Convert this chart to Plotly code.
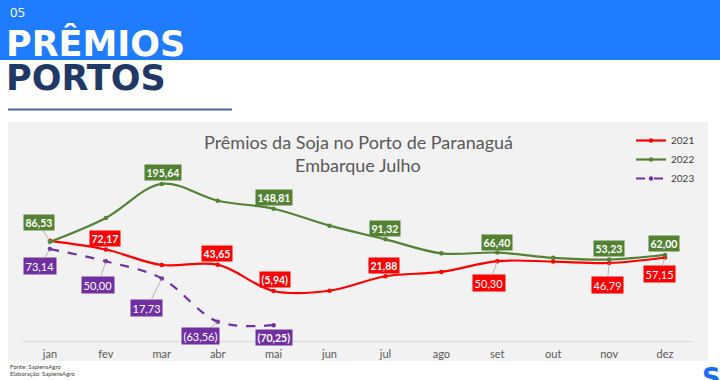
import plotly.graph_objects as go

months = ['jan', 'fev', 'mar', 'abr', 'mai', 'jun', 'jul', 'ago', 'set', 'out', 'nov', 'dez']
v2021 = [88.5, 72.17, 43.0, 43.65, -5.94, -5.5, 21.88, 30.0, 50.30, 49.5, 46.79, 57.15]
v2022 = [86.53, 131.5, 195.64, 164.0, 148.81, 117.0, 91.32, 65.0, 66.40, 56.5, 53.23, 62.00]
v2023 = [73.14, 50.00, 17.73, -63.56, -70.25, None, None, None, None, None, None, None]

# which points carry a data label
show2021 = [1, 3, 4, 6, 8, 10, 11]
show2022 = [0, 2, 4, 6, 8, 10, 11]
show2023 = [0, 1, 2, 3, 4]

title_lines = ['Prêmios da Soja no Porto de Paranaguá', 'Embarque Julho']

RED, GREEN, PURPLE = '#ff0000', '#548235', '#7030a0'

# label offsets in pixels (ax, ay), bold flag, leader line flag  (styling)
off2021 = {1: (-1, -11, True, False), 3: (-1, -11, True, False), 4: (1, -12, True, False),
           6: (-1, -11, True, False), 8: (-8, 22, False, True), 10: (-2, 22, False, True),
           11: (-6, 17, False, True)}
off2022 = {0: (-11, -19, True, True), 2: (1, -11, True, False), 4: (0, -11, True, False),
           6: (0, -11, True, False), 8: (0, -10, True, False), 10: (0, -11, True, False),
           11: (-1, -11, True, False)}
off2023 = {0: (-10, 17, False, True), 1: (-8, 24, False, True), 2: (-15, 30, False, True),
           3: (-17, 14, False, True), 4: (0, 12, True, False)}

L, R, T, B = 22, 27, 155, 39
W, H = 720 - L - R, 380 - T - B


def px(x):
    return (x - L) / W


def py(y):
    return (380 - B - y) / H


def fmt(v):
    s = f"{abs(v):.2f}".replace('.', ',')
    return f"({s})" if v < 0 else s


fig = go.Figure()
for name, vals, col, dash in [('2021', v2021, RED, 'solid'), ('2022', v2022, GREEN, 'solid'),
                              ('2023', v2023, PURPLE, 'dash')]:
    fig.add_trace(go.Scatter(
        x=months, y=vals, name=name, mode='lines+markers',
        line=dict(color=col, width=2.2, shape='spline', smoothing=1, dash=dash),
        marker=dict(size=4.5, color=col), connectgaps=False))

annotations = []
for vals, shows, offs, col in [(v2021, show2021, off2021, RED), (v2022, show2022, off2022, GREEN),
                               (v2023, show2023, off2023, PURPLE)]:
    for i in shows:
        ax, ay, bold, leader = offs[i]
        txt = fmt(vals[i])
        annotations.append(dict(
            x=months[i], y=vals[i], xref='x', yref='y', text=f"<b>{txt}</b>" if bold else txt,
            showarrow=True, ax=ax, ay=ay, arrowhead=0, arrowwidth=0.8,
            arrowcolor='#a6a6a6' if leader else 'rgba(0,0,0,0)', standoff=0,
            bgcolor=col, borderpad=1.5,
            font=dict(family='Lato', size=10.5 if bold else 11, color='white')))

# title lines
for txt, yy in zip(title_lines, [142, 165]):
    annotations.append(dict(x=px(358), y=py(yy), xref='paper', yref='paper', text=txt,
                            showarrow=False, xanchor='center', yanchor='middle',
                            font=dict(family='Lato', size=18, color='#595959')))

# header texts
annotations += [
    dict(x=px(8), y=py(12), xref='paper', yref='paper', text='05', showarrow=False,
         xanchor='left', yanchor='middle', font=dict(family='Open Sans', size=13, color='white')),
    dict(x=px(4), y=py(43), xref='paper', yref='paper', text='<b>PRÊMIOS</b>', showarrow=False,
         xanchor='left', yanchor='middle', height=42, valign='middle',
         font=dict(family='DejaVu Sans', size=35, color='white')),
    dict(x=px(4), y=py(78), xref='paper', yref='paper', text='<b>PORTOS</b>', showarrow=False,
         xanchor='left', yanchor='middle', height=28, valign='middle',
         font=dict(family='DejaVu Sans', size=35, color='#1f3864')),
    dict(x=px(8), y=py(366.5), xref='paper', yref='paper', text='Fonte: SapiensAgro', showarrow=False,
         xanchor='left', yanchor='middle', font=dict(family='Lato', size=6, color='#404040')),
    dict(x=px(8), y=py(373), xref='paper', yref='paper', text='Elaboração: SapiensAgro', showarrow=False,
         xanchor='left', yanchor='middle', font=dict(family='Lato', size=6, color='#404040')),
    dict(x=px(711), y=py(361), xref='paper', yref='paper', text='<b>S</b>', showarrow=False,
         xanchor='center', yanchor='top', font=dict(family='DejaVu Sans', size=26, color='#1a6cf5')),
]

shapes = [
    dict(type='rect', xref='paper', yref='paper', x0=px(0), x1=px(720), y0=py(60), y1=py(0),
         fillcolor='#1f7bff', line=dict(width=0), layer='below'),
    dict(type='line', xref='paper', yref='paper', x0=px(8), x1=px(232), y0=py(109.5), y1=py(109.5),
         line=dict(color='#4c6b9c', width=2)),
    dict(type='rect', xref='paper', yref='paper', x0=px(8), x1=px(708), y0=py(361), y1=py(122),
         fillcolor='#f2f2f2', line=dict(width=0), layer='below'),
]

fig.update_layout(
    width=720, height=380,
    margin=dict(l=L, r=R, t=T, b=B, autoexpand=False),
    paper_bgcolor='white', plot_bgcolor='rgba(0,0,0,0)',
    legend=dict(x=(628 + 3) / 720, xref='container', y=1 - 126 / 380, yref='container',
                xanchor='left', yanchor='top', bgcolor='rgba(0,0,0,0)',
                font=dict(family='Lato', size=10, color='#404040'), tracegroupgap=0,
                itemwidth=30),
    xaxis=dict(type='category', range=[-0.5, 11.5], showline=True, linecolor='#d9d9d9', linewidth=1,
               showgrid=False, zeroline=False, ticks='', automargin=False, ticklabelstandoff=3,
               tickfont=dict(family='Lato', size=11, color='#595959')),
    yaxis=dict(range=[-100, 250], visible=False, showgrid=False, zeroline=False, automargin=False),
    annotations=annotations, shapes=shapes, showlegend=True,
)

fig.write_html('out.html', post_script="document.body.style.margin='0';",
               config={'displayModeBar': False})
